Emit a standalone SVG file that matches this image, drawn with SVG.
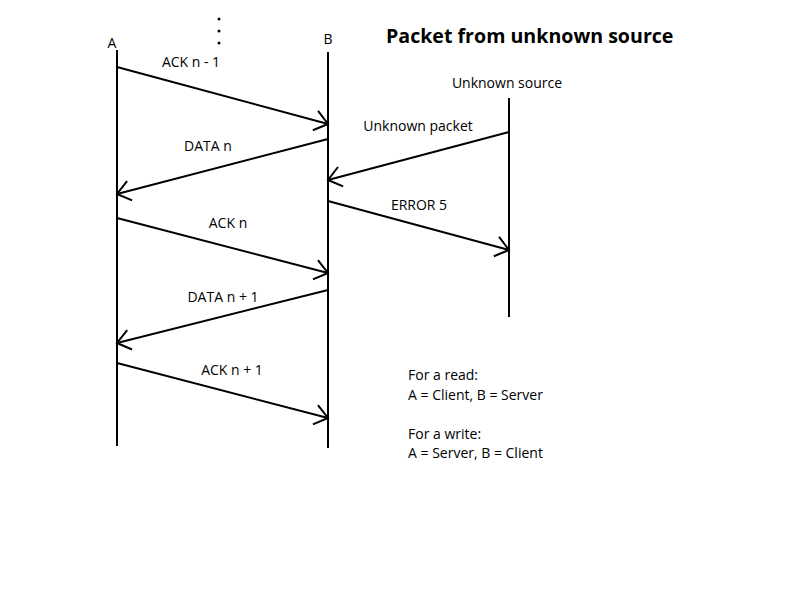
<svg xmlns="http://www.w3.org/2000/svg" width="800" height="600" viewBox="0 0 800 600">
<style>
text{font-family:"Open Sans","Liberation Sans",sans-serif;font-size:14px;fill:#000}
.title{font-size:19.6px;font-weight:bold}
.life{stroke:#000;stroke-width:2;fill:none}
.msg{stroke:#000;stroke-width:2;fill:none;marker-end:url(#arr)}
</style>
<defs>
<marker id="arr" markerUnits="userSpaceOnUse" markerWidth="20" markerHeight="24" refX="15" refY="11" orient="auto" viewBox="0 0 20 24">
<path d="M2,1 L15,11 L2,21" fill="none" stroke="#000" stroke-width="2"/>
</marker>
</defs>
<rect width="800" height="600" fill="#fff"/>
<text class="title" x="386" y="43">Packet from unknown source</text>
<g id="dots"><circle cx="219" cy="19" r="1.5"/><circle cx="219" cy="31" r="1.5"/><circle cx="219" cy="43" r="1.5"/></g>
<g id="nodeA"><text x="112" y="48" text-anchor="middle">A</text><line class="life" x1="117" y1="50" x2="117" y2="446"/></g>
<g id="nodeB"><text x="328" y="44" text-anchor="middle">B</text><line class="life" x1="328" y1="52" x2="328" y2="448"/></g>
<g id="nodeU"><text x="507" y="88" text-anchor="middle">Unknown source</text><line class="life" x1="509" y1="98" x2="509" y2="317"/></g>
<g id="connectors">
<line class="msg" x1="117" y1="67" x2="328" y2="124"/>
<text x="191" y="67" text-anchor="middle">ACK n - 1</text>
<line class="msg" x1="328" y1="139" x2="117" y2="194"/>
<text x="208" y="151" text-anchor="middle">DATA n</text>
<line class="msg" x1="117" y1="218" x2="328" y2="273"/>
<text x="228" y="228" text-anchor="middle">ACK n</text>
<line class="msg" x1="328" y1="290" x2="117" y2="343"/>
<text x="223" y="302" text-anchor="middle">DATA n + 1</text>
<line class="msg" x1="117" y1="363" x2="328" y2="418"/>
<text x="232" y="375" text-anchor="middle">ACK n + 1</text>
<line class="msg" x1="509" y1="132" x2="328" y2="180"/>
<text x="418" y="131" text-anchor="middle">Unknown packet</text>
<line class="msg" x1="328" y1="201" x2="509" y2="250"/>
<text x="419" y="210" text-anchor="middle">ERROR 5</text>
</g>
<g id="notes">
<text x="408" y="380">For a read:</text>
<text x="408" y="400">A = Client, B = Server</text>
<text x="408" y="439">For a write:</text>
<text x="408" y="458">A = Server, B = Client</text>
</g>
</svg>
